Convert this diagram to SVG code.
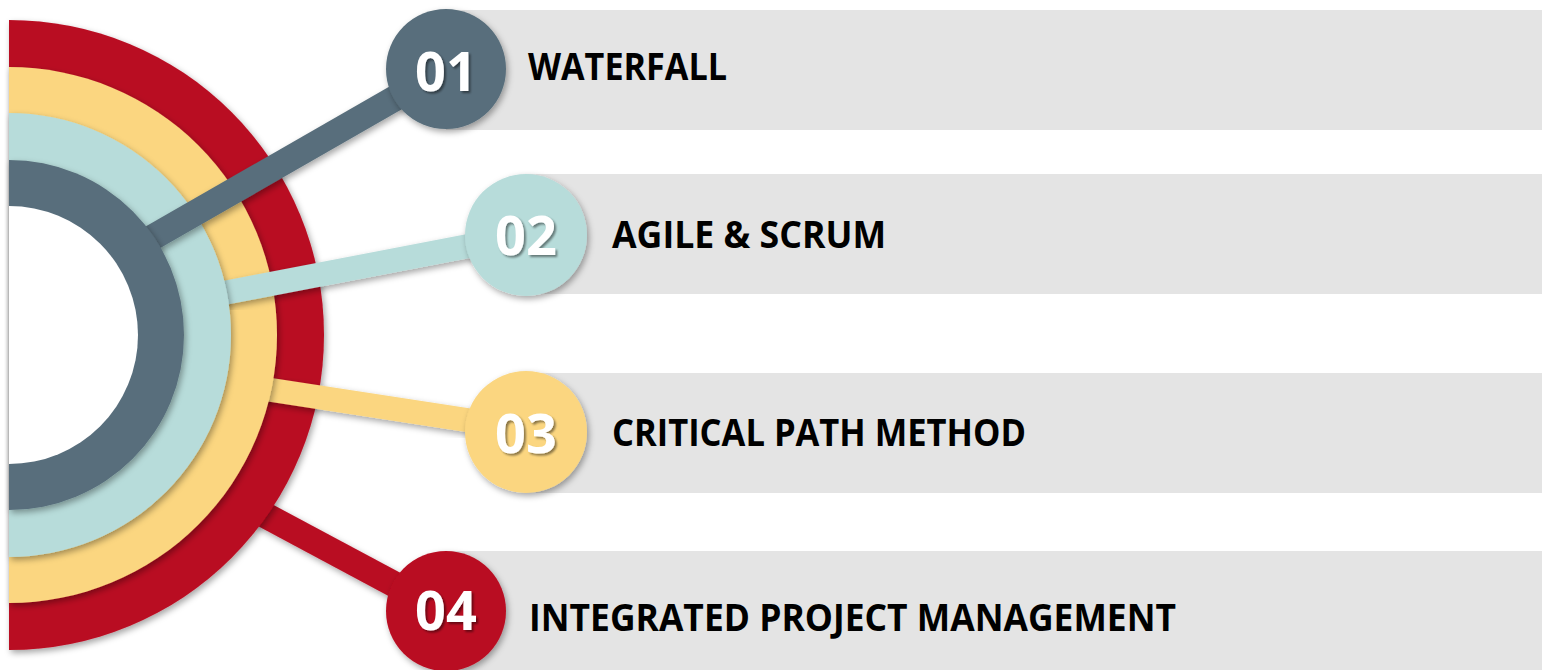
<svg xmlns="http://www.w3.org/2000/svg" width="1542" height="670" viewBox="0 0 1542 670">
<defs>
<filter id="sh" x="-20%" y="-20%" width="140%" height="140%">
<feDropShadow dx="2" dy="3" stdDeviation="3" flood-color="#000" flood-opacity="0.35"/>
</filter>
<filter id="tsh" x="-20%" y="-20%" width="140%" height="140%">
<feDropShadow dx="2" dy="2" stdDeviation="1.2" flood-color="#000" flood-opacity="0.45"/>
</filter>
<style>
.band{fill:#e4e4e4}
.num{font-family:"Open Sans","Liberation Sans",sans-serif;font-weight:700;font-size:54px;fill:#fff;text-anchor:middle}
.lbl{font-family:"Open Sans","Liberation Sans",sans-serif;font-weight:700;font-size:37px;fill:#000}
.red{fill:#b90b22}
.yel{fill:#fbd680}
.tea{fill:#b7dcda}
.sla{fill:#586e7b}
</style>
</defs>
<rect width="1542" height="670" fill="#fff"/>
<g id="bands">
<rect class="band" x="446" y="10" width="1096" height="120"/>
<rect class="band" x="526" y="174" width="1016" height="120"/>
<rect class="band" x="526" y="373" width="1016" height="120"/>
<rect class="band" x="446" y="551" width="1096" height="119"/>
</g>
<g id="connectors" filter="url(#sh)">
<line x1="246" y1="505" x2="446" y2="612" stroke="#b90b22" stroke-width="26"/>
</g>
<g id="ring-red"><path class="red" filter="url(#sh)" d="M9,20 A315,315 0 0 1 9,650 Z"/></g>
<g id="connector-03" filter="url(#sh)"><line x1="252" y1="387" x2="526" y2="429" stroke="#fbd680" stroke-width="24"/></g>
<g id="ring-yellow"><path class="yel" filter="url(#sh)" d="M9,67 A268,268 0 0 1 9,603 Z"/></g>
<g id="connector-02" filter="url(#sh)"><line x1="203" y1="297" x2="526" y2="235" stroke="#b7dcda" stroke-width="24"/></g>
<g id="ring-teal"><path class="tea" filter="url(#sh)" d="M9,113 A222,222 0 0 1 9,557 Z"/></g>
<g id="connector-01" filter="url(#sh)"><line x1="129" y1="251" x2="446" y2="69" stroke="#586e7b" stroke-width="26"/></g>
<g id="ring-slate"><path class="sla" filter="url(#sh)" d="M9,160 A175,175 0 0 1 9,510 Z"/></g>
<path d="M9,206 A129,129 0 0 1 9,464 Z" fill="#fff"/>
<g id="node-01">
<circle class="sla" cx="446" cy="69" r="60" filter="url(#sh)"/>
<text class="num" x="446" y="91" filter="url(#tsh)">01</text>
<text class="lbl" x="528" y="80" textLength="199" lengthAdjust="spacingAndGlyphs">WATERFALL</text>
</g>
<g id="node-02">
<circle class="tea" cx="526" cy="235" r="61" filter="url(#sh)"/>
<text class="num" x="526" y="255" filter="url(#tsh)">02</text>
<text class="lbl" x="612" y="248" textLength="274" lengthAdjust="spacingAndGlyphs">AGILE &amp; SCRUM</text>
</g>
<g id="node-03">
<circle class="yel" cx="526" cy="432" r="61" filter="url(#sh)"/>
<text class="num" x="526" y="453" filter="url(#tsh)">03</text>
<text class="lbl" x="612" y="446" textLength="414" lengthAdjust="spacingAndGlyphs">CRITICAL PATH METHOD</text>
</g>
<g id="node-04">
<circle class="red" cx="446" cy="611" r="60" filter="url(#sh)"/>
<text class="num" x="446" y="630" filter="url(#tsh)">04</text>
<text class="lbl" x="529" y="631" textLength="647" lengthAdjust="spacingAndGlyphs">INTEGRATED PROJECT MANAGEMENT</text>
</g>
</svg>
